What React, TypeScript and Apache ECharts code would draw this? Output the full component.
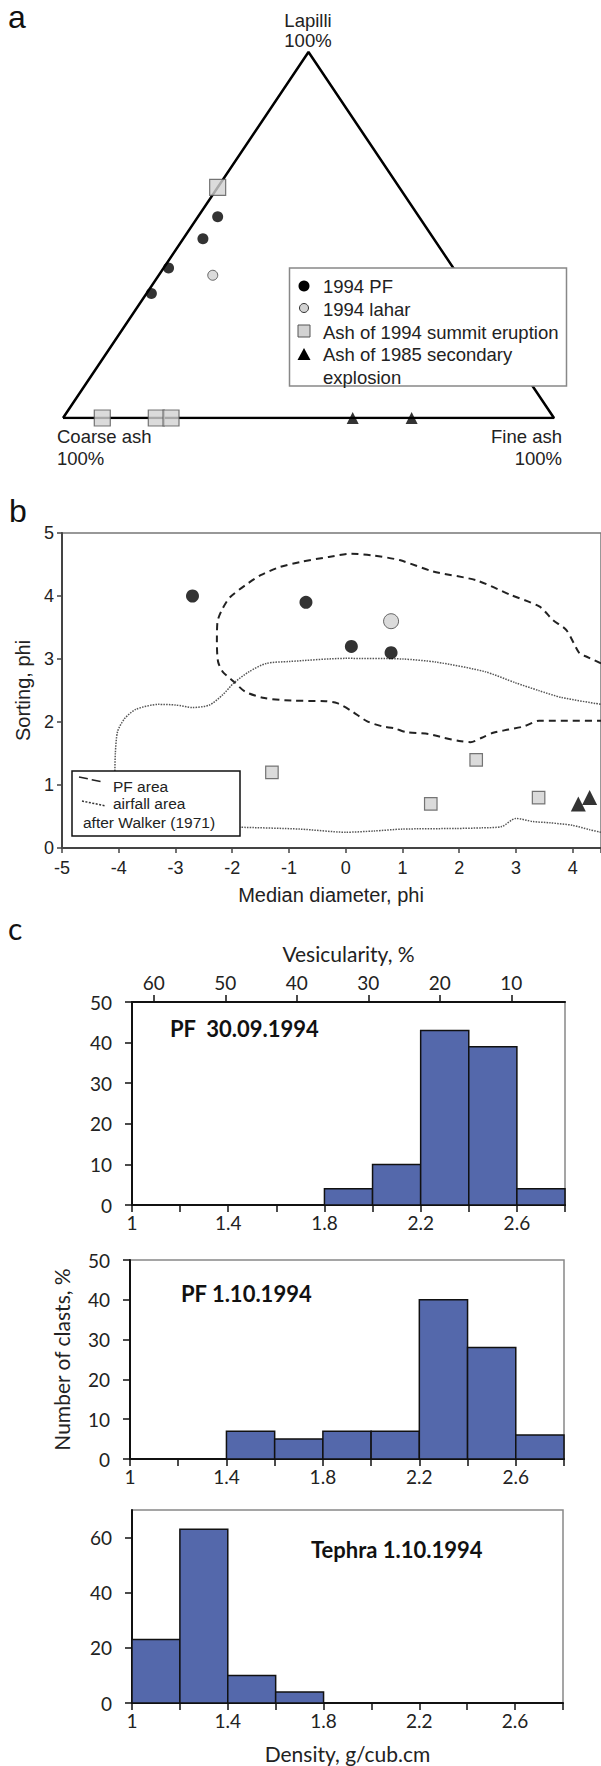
import React, { useEffect, useRef } from 'react';
import * as echarts from 'echarts';

// ---------- Panel a: ternary data [Lapilli %, Coarse ash %, Fine ash %] ----------
const ternPF = [[55, 41, 4], [49, 47, 4], [41, 58, 1], [34, 65, 1]];
const ternLahar = [[39, 50, 11]];
const ternAsh1994 = [[63, 37, 0], [0, 92, 8], [0, 81, 19], [0, 78, 22]];
const ternAsh1985 = [[0, 41, 59], [0, 29, 71]];
const ternOutline = [[0, 100, 0], [100, 0, 0], [0, 0, 100], [0, 100, 0]];

// ---------- Panel b: median diameter (phi) vs sorting (phi) ----------
const bPF = [[-2.7, 4.0], [-0.7, 3.9], [0.1, 3.2], [0.8, 3.1]];
const bLahar = [[0.8, 3.6]];
const bAsh1994 = [[-1.3, 1.2], [1.5, 0.7], [2.3, 1.4], [3.4, 0.8]];
const bAsh1985 = [[4.1, 0.7], [4.3, 0.8]];
const pfArea = [
  [4.5, 2.93], [4.24, 3.04], [4.12, 3.09], [3.89, 3.46], [3.65, 3.62], [3.42, 3.83], [2.9, 4.02],
  [2.3, 4.25], [1.54, 4.39], [0.95, 4.57], [0.5, 4.64], [0.1, 4.67], [-0.3, 4.62], [-0.8, 4.54],
  [-1.16, 4.46], [-1.5, 4.33], [-1.77, 4.17], [-2.04, 3.98], [-2.17, 3.8], [-2.26, 3.59],
  [-2.27, 3.27], [-2.25, 2.96], [-2.17, 2.8], [-1.97, 2.64], [-1.77, 2.48], [-1.43, 2.38],
  [-0.96, 2.34], [-0.36, 2.33], [-0.15, 2.3], [0.11, 2.17], [0.38, 2.01], [0.65, 1.93],
  [0.86, 1.9], [1.06, 1.84], [1.46, 1.81], [1.73, 1.75], [2.0, 1.7], [2.2, 1.68], [2.4, 1.75],
  [2.6, 1.83], [2.87, 1.88], [3.14, 1.93], [3.41, 2.02], [3.7, 2.02], [4.5, 2.02],
];
const airfallArea = [
  [4.5, 0.25], [4.3, 0.29], [4.0, 0.36], [3.6, 0.4], [3.3, 0.42], [3.0, 0.47], [2.75, 0.34],
  [2.4, 0.32], [1.95, 0.31], [1.0, 0.3], [0.5, 0.27], [0.0, 0.25], [-0.8, 0.3], [-1.9, 0.33],
  [-3.0, 0.35], [-3.8, 0.38], [-4.05, 0.6], [-4.07, 1.0], [-4.06, 1.5], [-4.02, 1.85],
  [-3.9, 2.05], [-3.7, 2.2], [-3.3, 2.28], [-3.0, 2.27], [-2.7, 2.23], [-2.4, 2.27],
  [-2.17, 2.43], [-1.97, 2.62], [-1.7, 2.8], [-1.4, 2.93], [-1.0, 2.96], [0.0, 3.01],
  [1.0, 3.0], [1.6, 2.95], [2.45, 2.8], [3.0, 2.62], [3.4, 2.5], [3.8, 2.39], [4.5, 2.28],
];

// ---------- Panel c: density histograms ----------
const densityBinEdges = [1.0, 1.2, 1.4, 1.6, 1.8, 2.0, 2.2, 2.4, 2.6, 2.8];
const densityTickLabels = ['1', '1.4', '1.8', '2.2', '2.6'];
const vesicularityTicks = [10, 20, 30, 40, 50, 60];
const histPF3009 = [0, 0, 0, 0, 4, 10, 43, 39, 4];
const histPF0110 = [0, 0, 7, 5, 7, 7, 40, 28, 6];
const histTephra0110 = [23, 63, 10, 4, 0, 0, 0, 0, 0];
const tephraYTicks = [0, 20, 40, 60];

const AR = "'Liberation Sans', Arial, sans-serif";
const CAL = "Lato, 'Noto Sans', sans-serif";
const BAR = '#5468ab';
const GRAYFILL = '#d2d2d2';

const toXY = (t: number[]) => [t[2] / 100 + t[0] / 200, t[0] / 100];
const histData = (vals: number[]) =>
  vals.map((v, i) => [densityBinEdges[i], densityBinEdges[i + 1], v]);

const histRender = (params: any, api: any) => {
  const x0 = api.value(0), x1 = api.value(1), v = api.value(2);
  if (!v) return { type: 'group', children: [] };
  const a = api.coord([x0, v]);
  const b = api.coord([x1, 0]);
  return {
    type: 'rect',
    shape: { x: a[0], y: a[1], width: b[0] - a[0], height: b[1] - a[1] },
    style: { fill: BAR, stroke: '#111', lineWidth: 1.5 },
  };
};

const densityLabel = (v: number) => {
  const r = Math.round(v * 10);
  return (r - 10) % 4 === 0 ? densityTickLabels[(r - 10) / 4] ?? '' : '';
};

const histX = (gridIndex: number, extra: any = {}) => ({
  gridIndex, type: 'value', min: 1, max: 2.8, interval: 0.2,
  axisLine: { show: true, onZero: false, lineStyle: { color: '#111', width: 2 } },
  axisTick: { show: true, length: 7, lineStyle: { color: '#111', width: 1.5 } },
  axisLabel: { formatter: densityLabel, fontFamily: CAL, fontSize: 19, color: '#222', margin: 8 },
  splitLine: { show: false },
  ...extra,
});
const histY = (gridIndex: number, extra: any = {}) => ({
  gridIndex, type: 'value', min: 0, max: 50, interval: 10,
  axisLine: { show: true, onZero: false, lineStyle: { color: '#111', width: 2 } },
  axisTick: { show: true, length: 7, lineStyle: { color: '#111', width: 1.5 } },
  axisLabel: { fontFamily: CAL, fontSize: 19, color: '#222', margin: 20 },
  splitLine: { show: false },
  ...extra,
});

const txt = (text: string, x: number, y: number, o: any = {}) => ({
  type: 'text', z: 100,
  style: {
    text, x, y, fill: o.fill ?? '#222', font: o.font ?? `18.5px ${AR}`,
    align: o.align ?? 'left', verticalAlign: o.va ?? 'middle',
  },
});

function buildOption(): any {
  const graphic: any[] = [
    txt('a', 8, 17, { font: `32px ${AR}`, fill: '#111' }),
    txt('b', 9, 511, { font: `32px ${AR}`, fill: '#111' }),
    txt('c', 8, 928, { font: `30px ${CAL}`, fill: '#111' }),
    // ternary corner labels
    txt('Lapilli', 308, 20, { align: 'center' }),
    txt('100%', 308, 40, { align: 'center' }),
    txt('Coarse ash', 57, 436),
    txt('100%', 57, 458),
    txt('Fine ash', 562, 436, { align: 'right' }),
    txt('100%', 562, 458, { align: 'right' }),
    // ternary legend
    { type: 'rect', z: 99, shape: { x: 289.5, y: 268, width: 277, height: 118 }, style: { fill: '#fff', stroke: '#888', lineWidth: 1.5 } },
    { type: 'circle', z: 100, shape: { cx: 304, cy: 286, r: 5.5 }, style: { fill: '#000' } },
    { type: 'circle', z: 100, shape: { cx: 304, cy: 308, r: 4.5 }, style: { fill: GRAYFILL, stroke: '#333', lineWidth: 1 } },
    { type: 'rect', z: 100, shape: { x: 298, y: 325, width: 12, height: 12 }, style: { fill: GRAYFILL, stroke: '#555', lineWidth: 1 } },
    { type: 'polygon', z: 100, shape: { points: [[304, 348], [297.5, 360], [310.5, 360]] }, style: { fill: '#000' } },
    txt('1994 PF', 323, 286),
    txt('1994 lahar', 323, 309),
    txt('Ash of 1994 summit eruption', 323, 332),
    txt('Ash of 1985 secondary', 323, 354.5),
    txt('explosion', 323, 377),
    // panel b legend
    { type: 'rect', z: 99, shape: { x: 72, y: 771, width: 168, height: 65 }, style: { fill: '#fff', stroke: '#111', lineWidth: 1.5 } },
    { type: 'line', z: 100, shape: { x1: 79, y1: 777, x2: 103, y2: 782 }, style: { stroke: '#222', lineWidth: 1.5, lineDash: [9, 4] } },
    { type: 'line', z: 100, shape: { x1: 82, y1: 801, x2: 106, y2: 806 }, style: { stroke: '#333', lineWidth: 1.5, lineDash: [2, 1.5] } },
    txt('PF area', 113, 786, { font: `15.5px ${AR}` }),
    txt('airfall area', 113, 803.5, { font: `15.5px ${AR}` }),
    txt('after Walker (1971)', 83, 822, { font: `15.5px ${AR}` }),
    txt('Median diameter, phi', 331, 895, { align: 'center', font: `20px ${AR}` }),
    // histogram labels
    txt('PF  30.09.1994', 170, 1028, { font: `bold 22px ${CAL}`, fill: '#111' }),
    txt('PF 1.10.1994', 181, 1293, { font: `bold 22px ${CAL}`, fill: '#111' }),
    txt('Tephra 1.10.1994', 311, 1549, { font: `bold 22px ${CAL}`, fill: '#111' }),
  ];

  const gb = { outerBoundsMode: 'none' };

  return {
    animation: false,
    backgroundColor: '#fff',
    graphic,
    grid: [
      { ...gb, left: 63, top: 52, width: 491, height: 366 },
      { ...gb, left: 62, top: 533, width: 539, height: 315, show: true, borderColor: '#777', borderWidth: 1.5 },
      { ...gb, left: 132, top: 1002, width: 433, height: 203, show: true, borderColor: '#888', borderWidth: 1.5 },
      { ...gb, left: 130, top: 1260, width: 434, height: 199, show: true, borderColor: '#888', borderWidth: 1.5 },
      { ...gb, left: 132, top: 1510, width: 431, height: 193, show: true, borderColor: '#888', borderWidth: 1.5 },
    ],
    xAxis: [
      { gridIndex: 0, type: 'value', min: 0, max: 1, show: false },
      {
        gridIndex: 1, type: 'value', min: -5, max: 4.5, interval: 1,
        axisLine: { show: true, onZero: false, lineStyle: { color: '#444', width: 2 } },
        axisTick: { show: true, length: 5, lineStyle: { color: '#444', width: 1.5 } },
        axisLabel: {
          fontFamily: AR, fontSize: 18, color: '#222', margin: 11,
          formatter: (v: number) => (Number.isInteger(v) ? String(v) : ''),
        },
        splitLine: { show: false },
      },
      histX(2),
      {
        gridIndex: 2, type: 'value', position: 'top', inverse: true, min: 2.5, max: 63.04,
        axisLine: { show: true, onZero: false, lineStyle: { color: '#111', width: 2 } },
        axisTick: { show: true, length: 7, customValues: vesicularityTicks, lineStyle: { color: '#111', width: 1.5 } },
        axisLabel: { customValues: vesicularityTicks, fontFamily: CAL, fontSize: 19, color: '#222', margin: 10 },
        splitLine: { show: false },
        name: 'Vesicularity, %', nameLocation: 'middle', nameGap: 38,
        nameTextStyle: { fontFamily: CAL, fontSize: 21, color: '#222' },
      },
      histX(3),
      histX(4, {
        name: 'Density, g/cub.cm', nameLocation: 'middle', nameGap: 40,
        nameTextStyle: { fontFamily: CAL, fontSize: 21, color: '#222' },
      }),
    ],
    yAxis: [
      { gridIndex: 0, type: 'value', min: 0, max: 1, show: false },
      {
        gridIndex: 1, type: 'value', min: 0, max: 5, interval: 1,
        axisLine: { show: true, onZero: false, lineStyle: { color: '#444', width: 2 } },
        axisTick: { show: true, length: 5, lineStyle: { color: '#444', width: 1.5 } },
        axisLabel: { fontFamily: AR, fontSize: 18, color: '#222', margin: 8 },
        splitLine: { show: false },
        name: 'Sorting, phi', nameLocation: 'middle', nameGap: 28,
        nameTextStyle: { fontFamily: AR, fontSize: 20, color: '#222' },
      },
      histY(2),
      histY(3, {
        name: 'Number of clasts, %', nameLocation: 'middle', nameGap: 58,
        nameTextStyle: { fontFamily: CAL, fontSize: 21, color: '#222' },
      }),
      histY(4, {
        max: 70, interval: undefined,
        axisTick: { show: true, length: 7, customValues: tephraYTicks, lineStyle: { color: '#111', width: 1.5 } },
        axisLabel: { customValues: tephraYTicks, fontFamily: CAL, fontSize: 19, color: '#222', margin: 20 },
      }),
    ],
    series: [
      // Panel a
      {
        name: 'triangle', type: 'line', xAxisIndex: 0, yAxisIndex: 0, data: ternOutline.map(toXY),
        symbol: 'none', lineStyle: { color: '#000', width: 2.5 }, z: 1, silent: true,
      },
      { name: '1994 PF', type: 'scatter', xAxisIndex: 0, yAxisIndex: 0, clip: false, data: ternPF.map(toXY), symbol: 'circle', symbolSize: 11, itemStyle: { color: '#000' } },
      { name: '1994 lahar', type: 'scatter', xAxisIndex: 0, yAxisIndex: 0, clip: false, data: ternLahar.map(toXY), symbol: 'circle', symbolSize: 10, itemStyle: { color: GRAYFILL, borderColor: '#444', borderWidth: 1 } },
      { name: 'Ash of 1994 summit eruption', type: 'scatter', xAxisIndex: 0, yAxisIndex: 0, clip: false, data: ternAsh1994.map(toXY), symbol: 'rect', symbolSize: 16, itemStyle: { color: GRAYFILL, borderColor: '#555', borderWidth: 1.2 } },
      { name: 'Ash of 1985 secondary explosion', type: 'scatter', xAxisIndex: 0, yAxisIndex: 0, clip: false, data: ternAsh1985.map(toXY), symbol: 'triangle', symbolSize: 12, itemStyle: { color: '#000' } },
      // Panel b
      {
        name: 'PF area', type: 'line', xAxisIndex: 1, yAxisIndex: 1, data: pfArea, symbol: 'none', smooth: 0.25,
        lineStyle: { color: '#222', width: 2, type: [7, 5] }, z: 1, silent: true,
      },
      {
        name: 'airfall area', type: 'line', xAxisIndex: 1, yAxisIndex: 1, data: airfallArea, symbol: 'none', smooth: 0.25,
        lineStyle: { color: '#555', width: 1.5, type: [1.5, 1.2] }, z: 1, silent: true,
      },
      { name: '1994 PF (b)', type: 'scatter', xAxisIndex: 1, yAxisIndex: 1, clip: false, data: bPF, symbol: 'circle', symbolSize: 13, itemStyle: { color: '#000' } },
      { name: '1994 lahar (b)', type: 'scatter', xAxisIndex: 1, yAxisIndex: 1, clip: false, data: bLahar, symbol: 'circle', symbolSize: 15, itemStyle: { color: GRAYFILL, borderColor: '#444', borderWidth: 1 } },
      { name: 'Ash of 1994 summit eruption (b)', type: 'scatter', xAxisIndex: 1, yAxisIndex: 1, clip: false, data: bAsh1994, symbol: 'rect', symbolSize: 12.5, itemStyle: { color: GRAYFILL, borderColor: '#555', borderWidth: 1.2 } },
      { name: 'Ash of 1985 secondary explosion (b)', type: 'scatter', xAxisIndex: 1, yAxisIndex: 1, clip: false, data: bAsh1985, symbol: 'triangle', symbolSize: 15, itemStyle: { color: '#000' } },
      // Panel c
      { name: 'PF 30.09.1994', type: 'custom', xAxisIndex: 2, yAxisIndex: 2, data: histData(histPF3009), encode: { x: [0, 1], y: 2 }, renderItem: histRender },
      { name: 'PF 1.10.1994', type: 'custom', xAxisIndex: 4, yAxisIndex: 3, data: histData(histPF0110), encode: { x: [0, 1], y: 2 }, renderItem: histRender },
      { name: 'Tephra 1.10.1994', type: 'custom', xAxisIndex: 5, yAxisIndex: 4, data: histData(histTephra0110), encode: { x: [0, 1], y: 2 }, renderItem: histRender },
    ],
  };
}

export default function App() {
  const ref = useRef<HTMLDivElement>(null);
  useEffect(() => {
    document.body.style.margin = '0';
    const chart = echarts.init(ref.current!, null, { renderer: 'svg' });
    chart.setOption(buildOption());
    return () => chart.dispose();
  }, []);
  return <div ref={ref} style={{ width: 601, height: 1766 }} />;
}
